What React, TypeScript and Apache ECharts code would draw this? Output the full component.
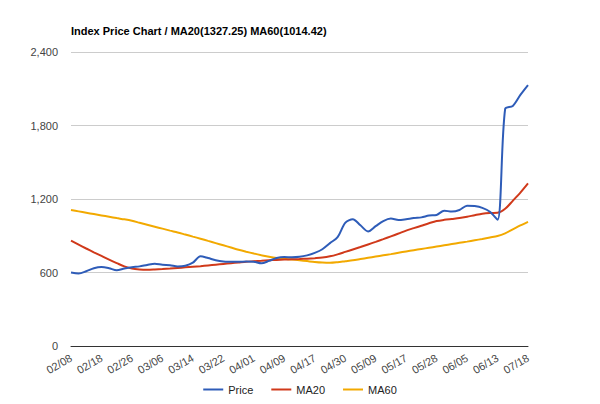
import React, { useEffect, useRef } from "react";
import * as echarts from "echarts";

const titleText = "Index Price Chart / MA20(1327.25) MA60(1014.42)";
const tickLabels = ["02/08", "02/18", "02/26", "03/06", "03/14", "03/22", "04/01", "04/09", "04/17", "04/30", "05/09", "05/17", "05/28", "06/05", "06/13", "07/18"];
const pointsPerTick = 4;

const price = [600, 592, 610, 635, 645, 635, 618, 632, 643, 650, 662, 672, 663, 660, 650, 655,
  680, 733, 718, 700, 690, 688, 687, 690, 688, 675, 695, 718, 726, 724, 728, 740,
  760, 790, 840, 888, 1005, 1035, 985, 935, 978, 1020, 1040, 1028, 1035, 1045, 1050, 1065,
  1070, 1105, 1097, 1110, 1145, 1142, 1128, 1096, 1030, 1935, 1960, 2050, 2130];

const ma20 = [860, 828, 796, 765, 735, 705, 677, 650, 632, 625, 623, 625, 628, 632, 637, 642,
  647, 652, 658, 664, 670, 676, 682, 688, 692, 696, 700, 703, 706, 708, 710, 713,
  717, 722, 732, 748, 768, 788, 808, 829, 850, 872, 895, 918, 942, 962, 982, 1002,
  1020, 1030, 1037, 1044, 1055, 1068, 1080, 1086, 1088, 1120, 1185, 1252, 1327];

const ma60 = [1110, 1099, 1088, 1077, 1066, 1055, 1044, 1034, 1022, 1006, 990, 974, 958, 942, 927, 910,
  893, 876, 858, 840, 822, 804, 786, 770, 755, 741, 728, 718, 712, 706, 700, 693,
  686, 681, 679, 684, 692, 700, 710, 720, 730, 740, 750, 761, 772, 782, 792, 802,
  812, 822, 832, 842, 852, 863, 874, 886, 898, 920, 952, 984, 1014];

const seriesNames = ["Price", "MA20", "MA60"];
const seriesColors = ["#2e5cb8", "#d0391a", "#f2a900"];

const FONT = 'Arial, "Liberation Sans", sans-serif';

const toPairs = (arr: number[]) => arr.map((v, i) => [i / pointsPerTick, v]);

export default function App() {
  const ref = useRef<HTMLDivElement>(null);
  useEffect(() => {
    if (!ref.current) return;
    const chart = echarts.init(ref.current, null, { renderer: "svg" });
    const data = [price, ma20, ma60];
    chart.setOption({
      animation: false,
      backgroundColor: "#ffffff",
      title: {
        text: titleText,
        left: 66,
        top: 20,
        textStyle: { fontFamily: FONT, fontSize: 11, fontWeight: "bold", color: "#000" },
      },
      legend: {
        data: seriesNames,
        left: "center",
        top: 379,
        icon: "rect",
        itemWidth: 20,
        itemHeight: 2,
        itemGap: 18,
        textStyle: { fontFamily: FONT, fontSize: 11, color: "#222" },
      },
      grid: { left: 71, right: 72, top: 52, bottom: 58, containLabel: false },
      xAxis: {
        type: "value",
        min: 0,
        max: tickLabels.length - 1,
        interval: 1,
        axisLine: { show: true, lineStyle: { color: "#333", width: 1 } },
        axisTick: { show: false },
        splitLine: { show: false },
        axisLabel: {
          rotate: 30,
          margin: 11,
          fontFamily: FONT,
          fontSize: 11,
          color: "#444",
          formatter: (v: number) => tickLabels[Math.round(v)] ?? "",
        },
      },
      yAxis: {
        type: "value",
        min: 0,
        max: 2400,
        interval: 600,
        axisLine: { show: false },
        axisTick: { show: false },
        splitLine: { lineStyle: { color: "#cccccc", width: 1 } },
        axisLabel: {
          margin: 13,
          fontFamily: FONT,
          fontSize: 11,
          color: "#444",
          formatter: (v: number) => v.toLocaleString("en-US"),
        },
      },
      series: seriesNames.map((name, k) => ({
        name,
        type: "line",
        data: toPairs(data[k]),
        smooth: 0.3,
        showSymbol: false,
        symbol: "none",
        color: seriesColors[k],
        lineStyle: { color: seriesColors[k], width: 2 },
        z: 3 - k,
      })),
    });
    return () => chart.dispose();
  }, []);
  return (
    <div
      ref={ref}
      style={{ position: "fixed", left: 0, top: 0, width: 600, height: 404, background: "#fff" }}
    />
  );
}
